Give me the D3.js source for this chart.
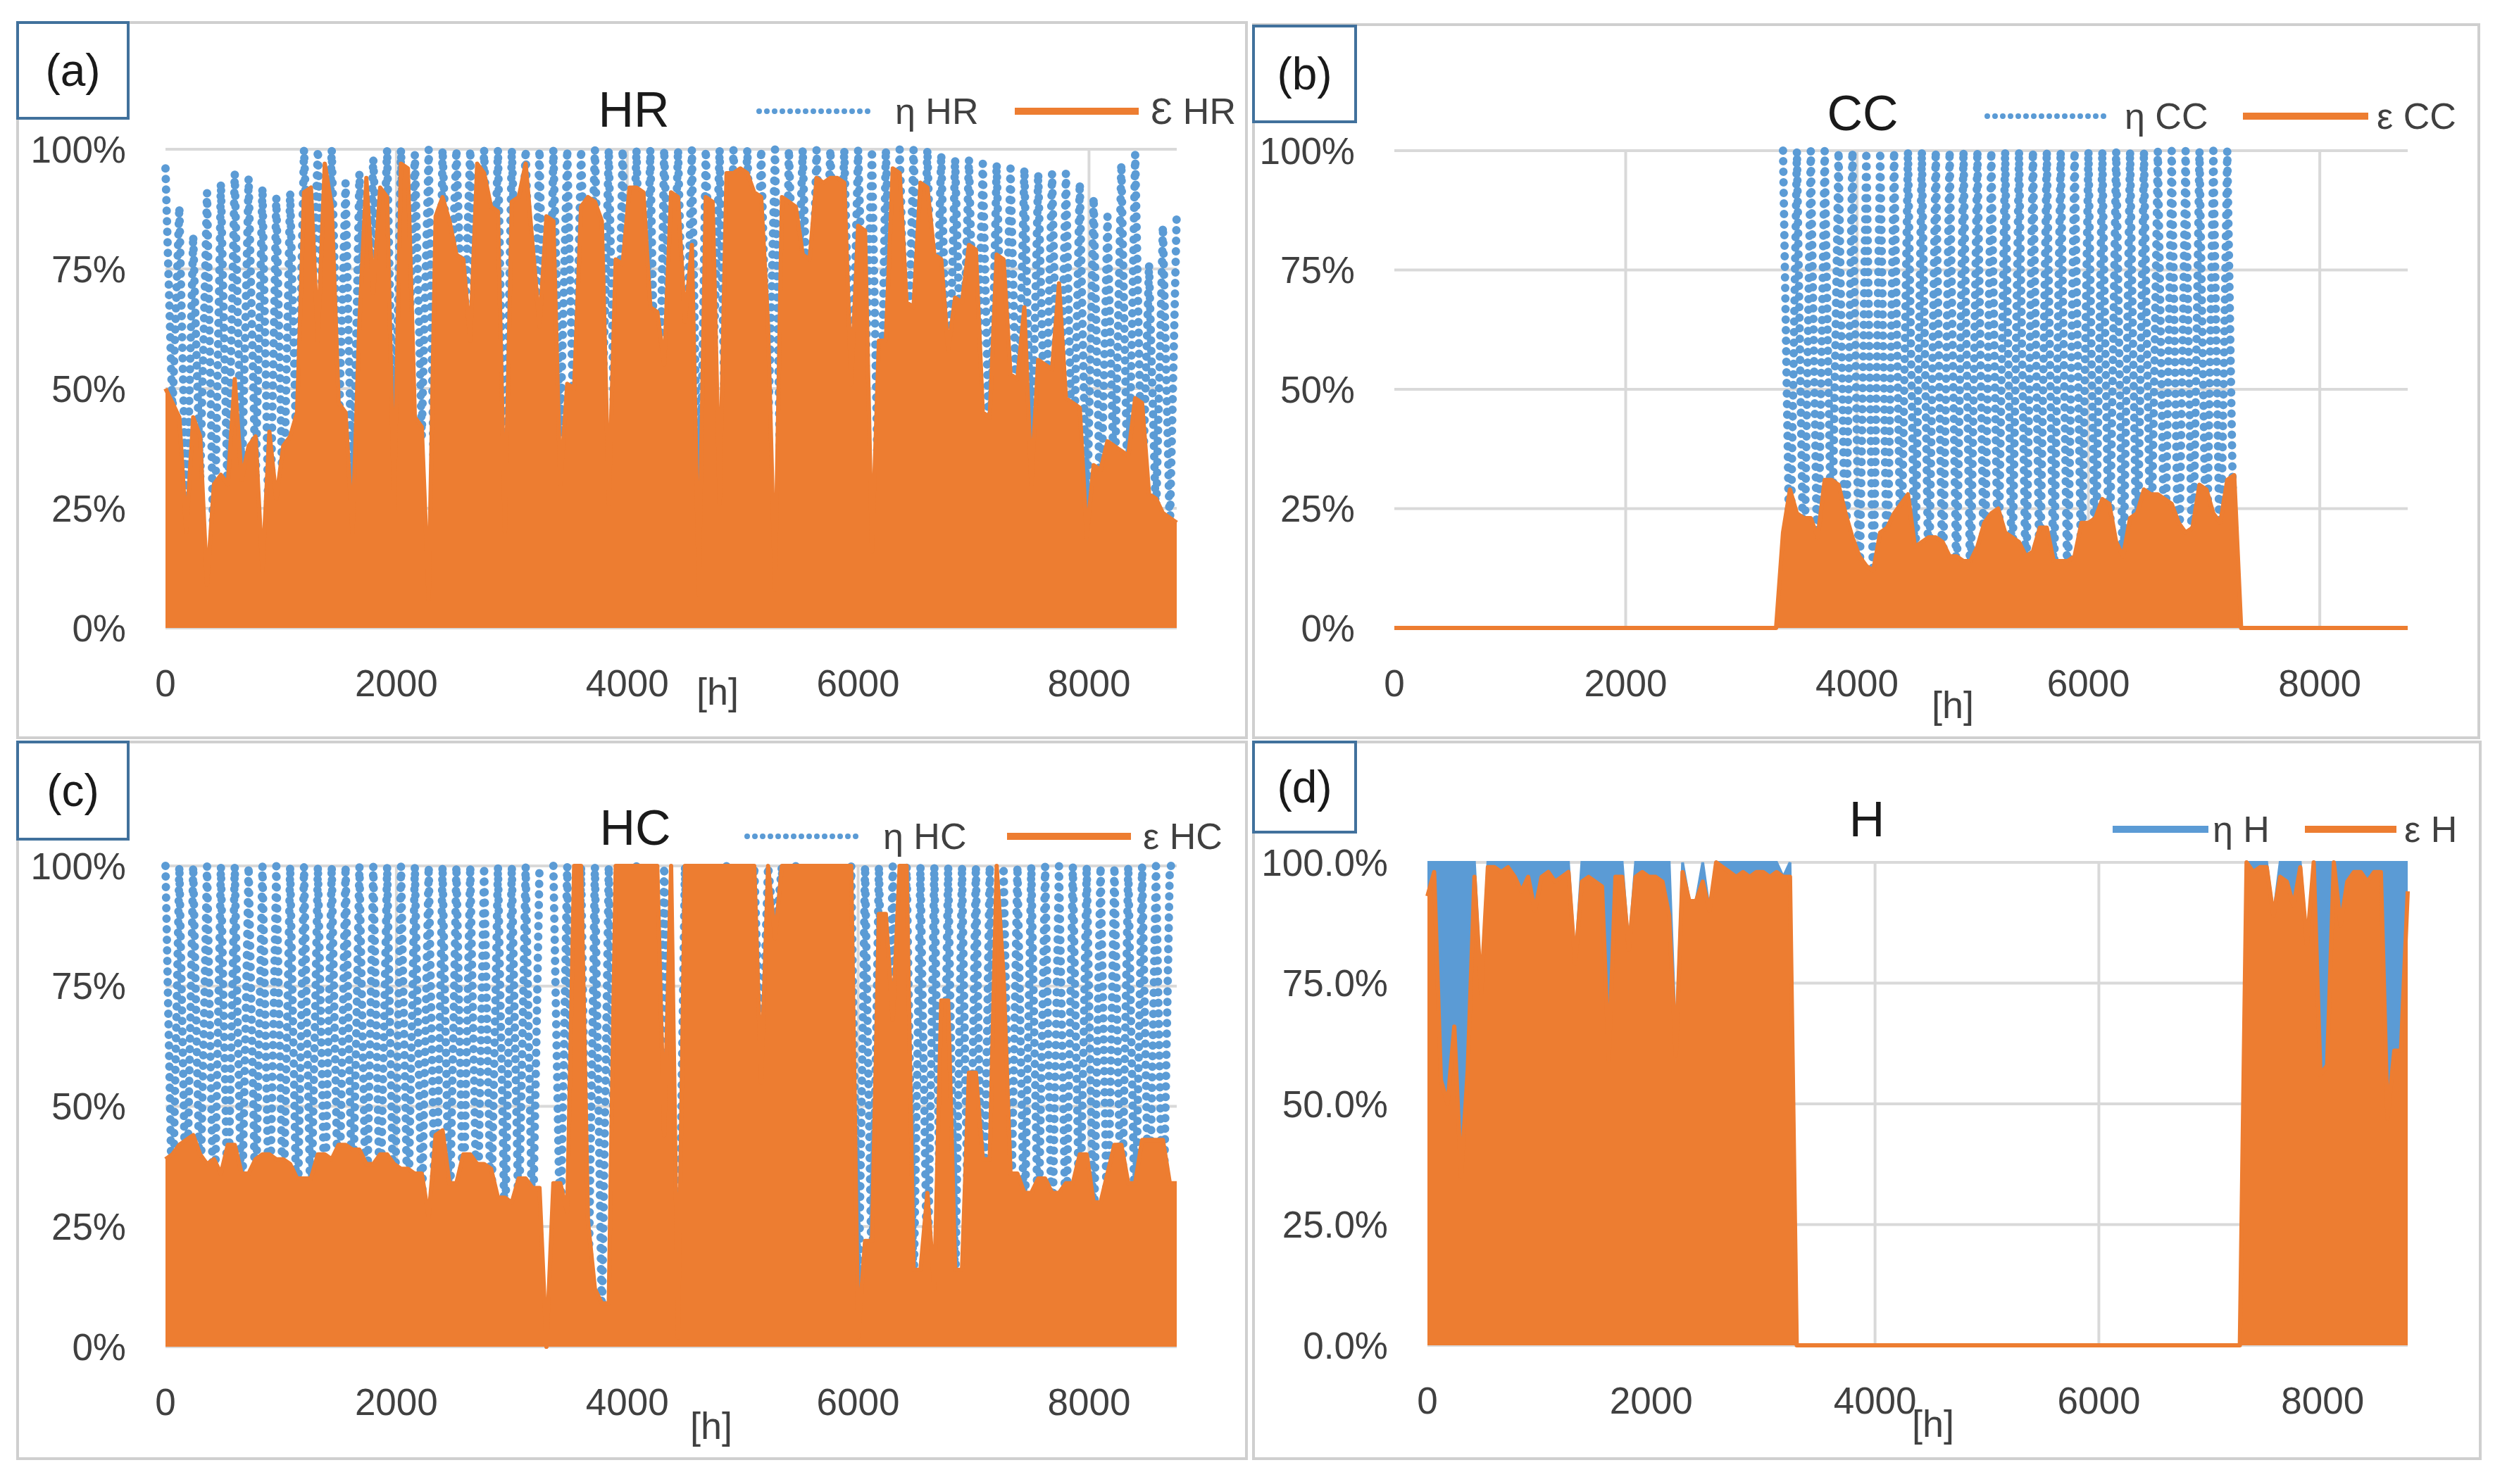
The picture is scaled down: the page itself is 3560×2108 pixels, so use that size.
<!DOCTYPE html>
<html><head><meta charset="utf-8">
<script src="https://cdn.jsdelivr.net/npm/d3@7"></script>
<style>body{margin:0;background:#fff}svg{display:block}</style>
</head><body>
<script>
// ---- data (values in %, sampled every 60 h over the year) ----
const hours = d3.range(0, 8761, 60);
const xTicks = [0, 2000, 4000, 6000, 8000];
const yTicks = [0, 25, 50, 75, 100];
const panelLabels = ["(a)", "(b)", "(c)", "(d)"];
const panelTitles = ["HR", "CC", "HC", "H"];
const etaNames = ["η HR", "η CC", "η HC", "η H"];
const epsNames = ["Ɛ HR", "ε CC", "ε HC", "ε H"];

const etaHR = [96,45,88,21,82,30,91,10,93,25,
 95,28,94,30,92,11,90,20,91,30,
 100,60,100,50,100,40,93,20,95,55,
 98,60,100,25,100,50,99,40,100,6,
 100,60,100,55,100,40,100,50,100,20,
 100,55,100,45,100,22,100,40,100,35,
 100,50,100,40,100,26,100,50,100,40,
 100,16,100,50,100,40,100,7,100,50,
 100,26,100,60,100,50,100,40,100,8,
 100,55,100,45,100,60,100,50,100,40,
 100,50,100,16,100,50,100,45,100,50,
 100,45,99,40,98,45,98,40,97,30,
 97,40,96,35,96,30,95,35,95,30,
 95,25,93,19,90,20,86,25,97,20,
 99,25,76,22,84,20,87];
const epsHR = [50,47,44,20,44,40,9,30,32,30,
 52,31,38,40,12,41,27,38,40,45,
 91,92,60,97,88,47,45,20,64,94,
 70,92,90,25,97,96,44,42,6,86,
 90,85,78,77,60,97,95,88,87,20,
 89,90,97,80,63,86,85,30,51,50,
 88,90,89,85,26,77,76,92,92,91,
 67,66,55,91,90,64,80,7,90,89,
 26,95,95,96,95,91,90,63,8,90,
 89,88,78,77,94,93,94,94,93,51,
 84,83,16,60,60,96,95,68,67,93,
 92,78,77,58,69,68,80,79,45,44,
 78,77,53,52,67,30,56,55,54,72,
 48,47,46,19,34,33,39,38,37,36,
 48,47,28,27,24,23,22];

const etaCC = [null,null,null,null,null,null,null,null,null,null,
 null,null,null,null,null,null,null,null,null,null,
 null,null,null,null,null,null,null,null,null,null,
 null,null,null,null,null,null,null,null,null,null,
 null,null,null,null,null,null,null,null,null,null,
 null,null,null,null,null,null,100,8,100,5,
 100,6,100,10,100,8,100,5,100,6,
 100,7,100,8,100,6,100,5,100,6,
 100,7,100,6,100,5,100,8,100,6,
 100,5,100,7,100,6,100,5,100,8,
 100,6,100,7,100,5,100,6,100,8,
 100,7,100,6,100,5,100,8,100,7,
 100,10,null,null,null,null,null,null,null,null,
 null,null,null,null,null,null,null,null,null,null,
 null,null,null,null,null,null,null];
const epsCC = [0,0,0,0,0,0,0,0,0,0,
 0,0,0,0,0,0,0,0,0,0,
 0,0,0,0,0,0,0,0,0,0,
 0,0,0,0,0,0,0,0,0,0,
 0,0,0,0,0,0,0,0,0,0,
 0,0,0,0,0,0,20,29,24,23,
 23,19,31,31,30,24,19,15,13,12,
 20,21,24,26,28,17,18,19,19,18,
 15,15,14,14,17,22,24,25,20,19,
 18,15,16,21,21,14,14,14,15,22,
 22,23,27,26,18,15,23,24,29,28,
 28,27,26,22,20,21,30,29,24,22,
 31,32,0,0,0,0,0,0,0,0,
 0,0,0,0,0,0,0,0,0,0,
 0,0,0,0,0,0,0];

const etaHC = [100,25,100,22,100,28,100,20,100,26,
 100,24,100,27,100,22,100,25,100,20,
 100,23,100,26,100,21,100,24,100,22,
 100,25,100,20,100,23,100,26,100,18,
 100,22,100,25,100,20,100,24,100,21,
 100,23,100,20,100,null,100,20,100,15,
 100,5,100,5,100,20,100,30,100,30,
 100,30,100,30,2,100,30,100,30,100,
 30,100,30,100,30,100,55,100,85,100,
 30,100,30,100,30,100,30,100,30,100,
 2,100,10,100,30,100,30,100,10,100,
 10,100,10,100,10,100,10,100,10,100,
 20,100,20,100,20,100,20,100,20,100,
 20,100,20,100,20,100,20,100,20,100,
 20,100,20,100,20,100,100];
const epsHC = [39,40,42,43,44,40,38,39,36,42,
 42,36,36,39,40,40,39,39,38,35,
 35,35,40,40,39,42,42,41,41,38,
 38,40,40,38,37,37,36,36,27,44,
 45,34,34,40,40,38,38,37,31,31,
 30,35,35,33,33,0,34,34,28,100,
 100,26,12,9,9,100,100,100,100,100,
 100,100,44,100,2,100,100,100,100,100,
 100,100,100,100,100,100,55,100,85,100,
 100,100,100,100,100,100,100,100,100,100,
 2,22,22,90,90,68,100,100,16,16,
 32,12,72,72,16,16,57,57,39,39,
 100,77,36,36,32,32,35,35,32,32,
 34,34,40,40,30,30,36,42,42,34,
 34,43,43,43,43,34,34];

const etaH = [100,100,100,100,100,100,100,100,73,100,
 100,100,100,100,100,100,100,100,100,100,
 100,100,79,100,100,100,100,100,100,100,
 82,100,100,100,100,100,100,62,100,92,
 92,100,90,100,100,100,100,100,100,100,
 100,100,100,97,100,0,0,0,0,0,
 0,0,0,0,0,0,0,0,0,0,
 0,0,0,0,0,0,0,0,0,0,
 0,0,0,0,0,0,0,0,0,0,
 0,0,0,0,0,0,0,0,0,0,
 0,0,0,0,0,0,0,0,0,0,
 0,0,0,0,0,0,0,0,0,0,
 0,0,100,100,100,100,89,100,100,100,
 100,83,100,100,100,100,100,100,100,100,
 100,100,100,100,100,100,100];
const epsH = [93,98,55,50,66,35,57,97,73,99,
 99,98,99,97,94,97,90,97,98,96,
 97,98,79,96,97,96,95,59,97,97,
 82,97,98,97,97,96,89,60,98,92,
 92,96,90,100,99,98,97,98,97,98,
 98,97,98,97,97,0,0,0,0,0,
 0,0,0,0,0,0,0,0,0,0,
 0,0,0,0,0,0,0,0,0,0,
 0,0,0,0,0,0,0,0,0,0,
 0,0,0,0,0,0,0,0,0,0,
 0,0,0,0,0,0,0,0,0,0,
 0,0,0,0,0,0,0,0,0,0,
 0,0,100,98,99,99,89,97,96,91,
 99,83,100,56,58,100,87,96,98,98,
 96,98,98,47,61,61,94];

// ---- layout ----
const W = 3560, H = 2108;
const BLUE = "#5B9BD5", ORANGE = "#ED7D31";
const FONT = "'Liberation Sans', Arial, sans-serif";

const panels = [
  {eta: etaHR, eps: epsHR, dotted: true, fmt: d => d + "%",
   frame: [25, 32, 1770, 1048], box: [25, 32, 182, 168], plot: [235, 212, 1671, 892],
   title: [900, 155], leg: {y: 158, e1: 1078, e2: 1243, et: 1271, p1: 1441, p2: 1617, pt: 1634}, hl: [1019, 982]},
  {eta: etaCC, eps: epsCC, dotted: true, fmt: d => d + "%",
   frame: [1780, 35, 3520, 1048], box: [1780, 37, 1925, 173], plot: [1980, 214, 3419, 892],
   title: [2645, 160], leg: {y: 165, e1: 2822, e2: 2989, et: 3017, p1: 3185, p2: 3363, pt: 3375}, hl: [2773, 1001]},
  {eta: etaHC, eps: epsHC, dotted: true, fmt: d => d + "%",
   frame: [25, 1054, 1770, 2072], box: [25, 1054, 182, 1192], plot: [235, 1230, 1671, 1913],
   title: [902, 1175], leg: {y: 1188, e1: 1061, e2: 1226, et: 1254, p1: 1430, p2: 1606, pt: 1623}, hl: [1010, 2025]},
  {eta: etaH, eps: epsH, dotted: false, fmt: d => d.toFixed(1) + "%",
   frame: [1780, 1054, 3522, 2072], box: [1780, 1054, 1925, 1182], plot: [2027, 1225, 3419, 1911],
   title: [2651, 1163], leg: {y: 1178, e1: 3000, e2: 3136, et: 3142, p1: 3273, p2: 3403, pt: 3414}, hl: [2745, 2022]}
];

const svg = d3.select("body").append("svg").attr("width", W).attr("height", H)
  .style("font-family", FONT);
svg.append("rect").attr("width", W).attr("height", H).attr("fill", "#fff");

panels.forEach((p, k) => {
  const g = svg.append("g");
  const [fx0, fy0, fx1, fy1] = p.frame;
  g.append("rect").attr("x", fx0).attr("y", fy0).attr("width", fx1 - fx0).attr("height", fy1 - fy0)
    .attr("fill", "#fff").attr("stroke", "#CFCFCF").attr("stroke-width", 4);

  const [px0, py0, px1, py1] = p.plot;
  const x = d3.scaleLinear().domain([0, 8760]).range([px0, px1]);
  const y = d3.scaleLinear().domain([0, 100]).range([py1, py0]);

  // gridlines
  g.selectAll(".hg").data(yTicks).join("line")
    .attr("x1", x(0)).attr("x2", x(8760)).attr("y1", d => y(d)).attr("y2", d => y(d))
    .attr("stroke", "#D9D9D9").attr("stroke-width", 4);
  g.selectAll(".vg").data(xTicks.filter(t => t > 0)).join("line")
    .attr("x1", d => x(d)).attr("x2", d => x(d)).attr("y1", y(0)).attr("y2", y(100))
    .attr("stroke", "#D9D9D9").attr("stroke-width", 4);

  const rows = hours.map((h, i) => ({h, eta: p.eta[i], eps: p.eps[i]}));

  // eta series
  if (p.dotted) {
    const ln = d3.line().defined(d => d.eta != null).x(d => x(d.h)).y(d => y(d.eta));
    g.append("path").attr("d", ln(rows)).attr("fill", "none")
      .attr("stroke", BLUE).attr("stroke-width", 12).attr("stroke-linecap", "round")
      .attr("stroke-dasharray", "0 15");
  } else {
    const ar = d3.area().x(d => x(d.h)).y0(y(0)).y1(d => y(d.eta));
    g.append("path").attr("d", ar(rows)).attr("fill", BLUE);
    const ln = d3.line().x(d => x(d.h)).y(d => y(d.eta));
    g.append("path").attr("d", ln(rows)).attr("fill", "none").attr("stroke", BLUE).attr("stroke-width", 4);
  }
  // eps series
  const area = d3.area().x(d => x(d.h)).y0(y(0)).y1(d => y(d.eps));
  g.append("path").attr("d", area(rows)).attr("fill", ORANGE);
  const eline = d3.line().x(d => x(d.h)).y(d => y(d.eps));
  g.append("path").attr("d", eline(rows)).attr("fill", "none").attr("stroke", ORANGE)
    .attr("stroke-width", 6).attr("stroke-linejoin", "round");

  // tick labels
  g.selectAll(".yt").data(yTicks).join("text")
    .attr("x", px0 - 56).attr("y", d => y(d)).attr("dy", "0.35em")
    .attr("text-anchor", "end").attr("font-size", 53).attr("fill", "#404040")
    .text(p.fmt);
  g.selectAll(".xt").data(xTicks).join("text")
    .attr("x", d => x(d)).attr("y", py1 + 78).attr("dy", "0.35em")
    .attr("text-anchor", "middle").attr("font-size", 53).attr("fill", "#404040")
    .text(d => d);
  g.append("text").attr("x", p.hl[0]).attr("y", p.hl[1]).attr("dy", "0.35em")
    .attr("text-anchor", "middle").attr("font-size", 54).attr("fill", "#404040").text("[h]");

  // title
  g.append("text").attr("x", p.title[0]).attr("y", p.title[1]).attr("dy", "0.35em")
    .attr("text-anchor", "middle").attr("font-size", 70).attr("fill", "#1a1a1a").text(panelTitles[k]);

  // legend
  const L = p.leg;
  if (p.dotted) {
    g.append("line").attr("x1", L.e1).attr("x2", L.e2).attr("y1", L.y).attr("y2", L.y)
      .attr("stroke", BLUE).attr("stroke-width", 8).attr("stroke-linecap", "round")
      .attr("stroke-dasharray", "0 11");
  } else {
    g.append("line").attr("x1", L.e1).attr("x2", L.e2).attr("y1", L.y).attr("y2", L.y)
      .attr("stroke", BLUE).attr("stroke-width", 10);
  }
  g.append("text").attr("x", L.et).attr("y", L.y).attr("dy", "0.35em")
    .attr("font-size", 52).attr("fill", "#404040").text(etaNames[k]);
  g.append("line").attr("x1", L.p1).attr("x2", L.p2).attr("y1", L.y).attr("y2", L.y)
    .attr("stroke", ORANGE).attr("stroke-width", 10);
  g.append("text").attr("x", L.pt).attr("y", L.y).attr("dy", "0.35em")
    .attr("font-size", 52).attr("fill", "#404040").text(epsNames[k]);

  // panel label box
  const [bx0, by0, bx1, by1] = p.box;
  g.append("rect").attr("x", bx0).attr("y", by0).attr("width", bx1 - bx0).attr("height", by1 - by0)
    .attr("fill", "#fff").attr("stroke", "#41719C").attr("stroke-width", 4);
  g.append("text").attr("x", (bx0 + bx1) / 2).attr("y", (by0 + by1) / 2).attr("dy", "0.35em")
    .attr("text-anchor", "middle").attr("font-size", 64).attr("fill", "#1a1a1a").text(panelLabels[k]);
});
</script>
</body></html>
